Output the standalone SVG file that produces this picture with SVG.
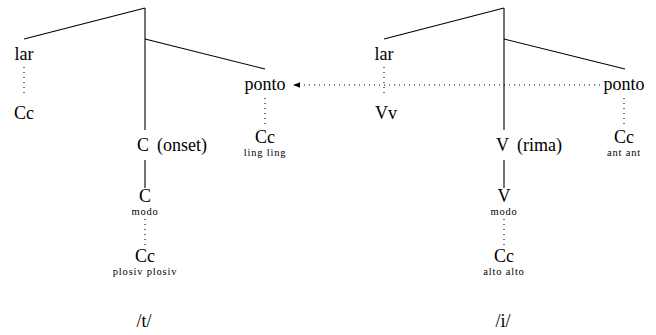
<svg xmlns="http://www.w3.org/2000/svg" width="656" height="335" viewBox="0 0 656 335">
<style>
text{font-family:"Liberation Serif","Times New Roman",serif;fill:#000;text-anchor:middle}
.m{font-size:18px}
.s{font-size:10.5px;letter-spacing:0.8px}
.ln{stroke:#000;stroke-width:1.1;fill:none}
.dt{stroke:#000;stroke-width:1.1;fill:none;stroke-dasharray:1 4}
</style>
<defs>
<marker id="ah" viewBox="0 0 10 10" refX="9" refY="5" markerWidth="7" markerHeight="7" orient="auto-start-reverse" markerUnits="userSpaceOnUse">
<path d="M0,1 L10,5 L0,9 Z" fill="#000"/>
</marker>
</defs>
<rect width="656" height="335" fill="#fff"/>
<g id="connectors">
<line class="ln" x1="145" y1="8" x2="24" y2="39"/>
<line class="ln" x1="145" y1="8" x2="145" y2="130"/>
<line class="ln" x1="145" y1="39" x2="265" y2="69"/>
<line class="ln" x1="145" y1="160" x2="145" y2="188"/>
<line class="dt" x1="24" y1="67" x2="24" y2="94"/>
<line class="dt" x1="265" y1="98" x2="265" y2="125"/>
<line class="dt" x1="145" y1="219" x2="145" y2="246"/>
<line class="ln" x1="504" y1="8" x2="384" y2="39"/>
<line class="ln" x1="504" y1="8" x2="504" y2="130"/>
<line class="ln" x1="504" y1="39" x2="625" y2="69"/>
<line class="ln" x1="504" y1="160" x2="504" y2="188"/>
<line class="dt" x1="384" y1="67" x2="384" y2="94"/>
<line class="dt" x1="624" y1="98" x2="624" y2="125"/>
<line class="dt" x1="504" y1="219" x2="504" y2="246"/>
<line class="dt" x1="600" y1="85" x2="294" y2="85" marker-end="url(#ah)"/>
</g>
<g id="t-lar"><text class="m" x="24" y="60">lar</text></g>
<g id="t-Cc1"><text class="m" x="24" y="119">Cc</text></g>
<g id="t-ponto"><text class="m" x="265" y="90">ponto</text></g>
<g id="t-onset"><text class="m" x="137" y="151" style="text-anchor:start">C<tspan dx="8">(onset)</tspan></text></g>
<g id="t-Cc2"><text class="m" x="265" y="143">Cc</text><text class="s" x="265" y="156">ling ling</text></g>
<g id="t-C"><text class="m" x="145" y="202">C</text><text class="s" x="145" y="215">modo</text></g>
<g id="t-Cc3"><text class="m" x="145" y="262">Cc</text><text class="s" x="145" y="275">plosiv plosiv</text></g>
<g id="t-t"><text class="m" x="144" y="327">/t/</text></g>
<g id="i-lar"><text class="m" x="384" y="60">lar</text></g>
<g id="i-Vv"><text class="m" x="386" y="119">Vv</text></g>
<g id="i-ponto"><text class="m" x="624" y="90">ponto</text></g>
<g id="i-rima"><text class="m" x="496" y="151" style="text-anchor:start">V<tspan dx="8">(rima)</tspan></text></g>
<g id="i-Cc2"><text class="m" x="624" y="143">Cc</text><text class="s" x="624" y="156">ant ant</text></g>
<g id="i-V"><text class="m" x="504" y="202">V</text><text class="s" x="504" y="215">modo</text></g>
<g id="i-Cc3"><text class="m" x="504" y="262">Cc</text><text class="s" x="504" y="275">alto alto</text></g>
<g id="i-i"><text class="m" x="503" y="327">/i/</text></g>
</svg>
